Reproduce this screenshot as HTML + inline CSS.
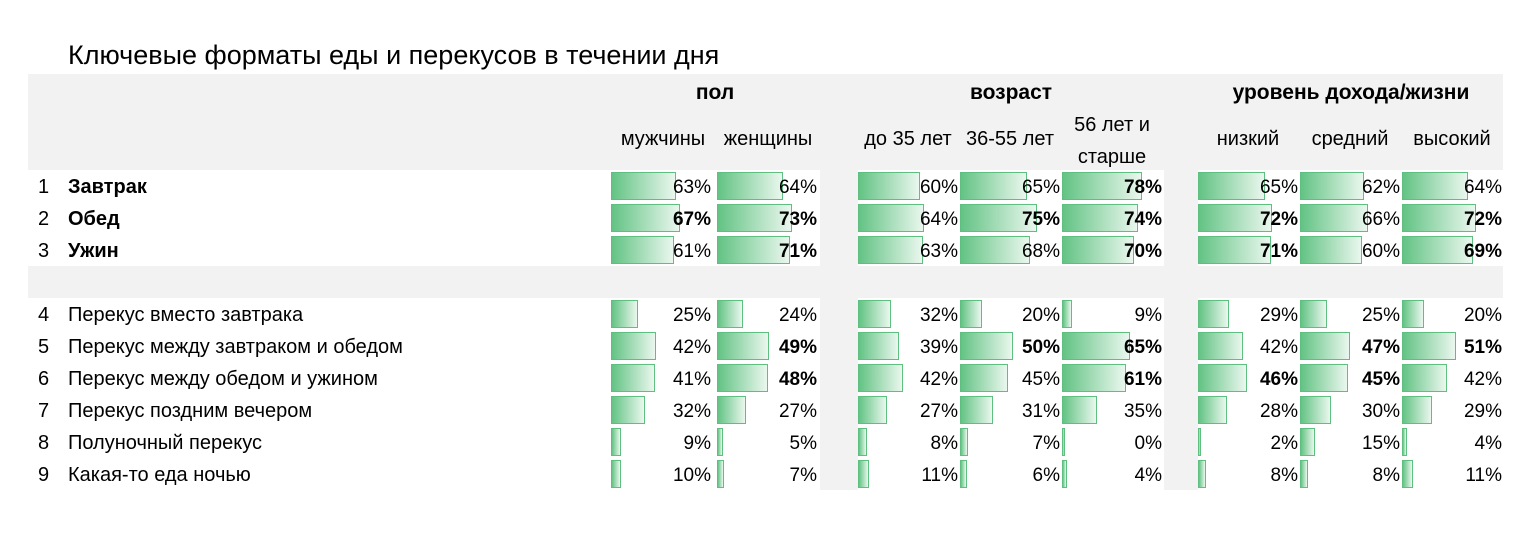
<!DOCTYPE html>
<html><head><meta charset="utf-8"><style>
body{margin:0;width:1536px;height:539px;background:#fff;position:relative;overflow:hidden;font-family:"Liberation Sans",sans-serif;color:#000}
div{position:absolute}
.g{background:#f2f2f2}
.b{height:26px;border:1px solid #5fbf80;background:linear-gradient(to right,#63c384,#eaf7ee);box-sizing:content-box}
.t{width:100px;text-align:right;font-size:19px;line-height:32px;margin-top:2px}
.k{font-weight:bold}
.l{font-size:20px;line-height:32px;white-space:nowrap;margin-top:1px}
.h{font-size:20px;text-align:center;white-space:nowrap}
</style></head><body>
<div style="left:68px;top:40px;font-size:27px;white-space:nowrap">Ключевые форматы еды и перекусов в течении дня</div>
<div class="g" style="left:28px;top:74px;width:1475px;height:96px"></div>
<div class="g" style="left:28px;top:266px;width:1475px;height:32px"></div>
<div class="g" style="left:820px;top:170px;width:38px;height:320px"></div>
<div class="g" style="left:1164px;top:170px;width:34px;height:320px"></div>
<div class="h k" style="left:611px;top:81px;width:208px;font-size:21px">пол</div>
<div class="h k" style="left:858px;top:81px;width:306px;font-size:21px">возраст</div>
<div class="h k" style="left:1198px;top:81px;width:306px;font-size:21px">уровень дохода/жизни</div>
<div class="h" style="left:608px;top:128px;width:110px">мужчины</div>
<div class="h" style="left:713px;top:128px;width:110px">женщины</div>
<div class="h" style="left:853px;top:128px;width:110px">до 35 лет</div>
<div class="h" style="left:955px;top:128px;width:110px">36-55 лет</div>
<div class="h" style="left:1057px;top:109px;width:110px;line-height:32px">56 лет и<br>старше</div>
<div class="h" style="left:1193px;top:128px;width:110px">низкий</div>
<div class="h" style="left:1295px;top:128px;width:110px">средний</div>
<div class="h" style="left:1397px;top:128px;width:110px">высокий</div>

<div class="l" style="left:38px;top:170px">1</div><div class="l k" style="left:68px;top:170px">Завтрак</div>
<div class="l" style="left:38px;top:202px">2</div><div class="l k" style="left:68px;top:202px">Обед</div>
<div class="l" style="left:38px;top:234px">3</div><div class="l k" style="left:68px;top:234px">Ужин</div>
<div class="l" style="left:38px;top:298px">4</div><div class="l" style="left:68px;top:298px">Перекус вместо завтрака</div>
<div class="l" style="left:38px;top:330px">5</div><div class="l" style="left:68px;top:330px">Перекус между завтраком и обедом</div>
<div class="l" style="left:38px;top:362px">6</div><div class="l" style="left:68px;top:362px">Перекус между обедом и ужином</div>
<div class="l" style="left:38px;top:394px">7</div><div class="l" style="left:68px;top:394px">Перекус поздним вечером</div>
<div class="l" style="left:38px;top:426px">8</div><div class="l" style="left:68px;top:426px">Полуночный перекус</div>
<div class="l" style="left:38px;top:458px">9</div><div class="l" style="left:68px;top:458px">Какая-то еда ночью</div>

<div class="b" style="left:611px;top:172px;width:63px"></div><div class="t" style="left:611px;top:170px">63%</div>
<div class="b" style="left:717px;top:172px;width:64px"></div><div class="t" style="left:717px;top:170px">64%</div>
<div class="b" style="left:858px;top:172px;width:60px"></div><div class="t" style="left:858px;top:170px">60%</div>
<div class="b" style="left:960px;top:172px;width:65px"></div><div class="t" style="left:960px;top:170px">65%</div>
<div class="b" style="left:1062px;top:172px;width:78px"></div><div class="t k" style="left:1062px;top:170px">78%</div>
<div class="b" style="left:1198px;top:172px;width:65px"></div><div class="t" style="left:1198px;top:170px">65%</div>
<div class="b" style="left:1300px;top:172px;width:62px"></div><div class="t" style="left:1300px;top:170px">62%</div>
<div class="b" style="left:1402px;top:172px;width:64px"></div><div class="t" style="left:1402px;top:170px">64%</div>
<div class="b" style="left:611px;top:204px;width:67px"></div><div class="t k" style="left:611px;top:202px">67%</div>
<div class="b" style="left:717px;top:204px;width:73px"></div><div class="t k" style="left:717px;top:202px">73%</div>
<div class="b" style="left:858px;top:204px;width:64px"></div><div class="t" style="left:858px;top:202px">64%</div>
<div class="b" style="left:960px;top:204px;width:75px"></div><div class="t k" style="left:960px;top:202px">75%</div>
<div class="b" style="left:1062px;top:204px;width:74px"></div><div class="t k" style="left:1062px;top:202px">74%</div>
<div class="b" style="left:1198px;top:204px;width:72px"></div><div class="t k" style="left:1198px;top:202px">72%</div>
<div class="b" style="left:1300px;top:204px;width:66px"></div><div class="t" style="left:1300px;top:202px">66%</div>
<div class="b" style="left:1402px;top:204px;width:72px"></div><div class="t k" style="left:1402px;top:202px">72%</div>
<div class="b" style="left:611px;top:236px;width:61px"></div><div class="t" style="left:611px;top:234px">61%</div>
<div class="b" style="left:717px;top:236px;width:71px"></div><div class="t k" style="left:717px;top:234px">71%</div>
<div class="b" style="left:858px;top:236px;width:63px"></div><div class="t" style="left:858px;top:234px">63%</div>
<div class="b" style="left:960px;top:236px;width:68px"></div><div class="t" style="left:960px;top:234px">68%</div>
<div class="b" style="left:1062px;top:236px;width:70px"></div><div class="t k" style="left:1062px;top:234px">70%</div>
<div class="b" style="left:1198px;top:236px;width:71px"></div><div class="t k" style="left:1198px;top:234px">71%</div>
<div class="b" style="left:1300px;top:236px;width:60px"></div><div class="t" style="left:1300px;top:234px">60%</div>
<div class="b" style="left:1402px;top:236px;width:69px"></div><div class="t k" style="left:1402px;top:234px">69%</div>
<div class="b" style="left:611px;top:300px;width:25px"></div><div class="t" style="left:611px;top:298px">25%</div>
<div class="b" style="left:717px;top:300px;width:24px"></div><div class="t" style="left:717px;top:298px">24%</div>
<div class="b" style="left:858px;top:300px;width:31px"></div><div class="t" style="left:858px;top:298px">32%</div>
<div class="b" style="left:960px;top:300px;width:20px"></div><div class="t" style="left:960px;top:298px">20%</div>
<div class="b" style="left:1062px;top:300px;width:8px"></div><div class="t" style="left:1062px;top:298px">9%</div>
<div class="b" style="left:1198px;top:300px;width:29px"></div><div class="t" style="left:1198px;top:298px">29%</div>
<div class="b" style="left:1300px;top:300px;width:25px"></div><div class="t" style="left:1300px;top:298px">25%</div>
<div class="b" style="left:1402px;top:300px;width:20px"></div><div class="t" style="left:1402px;top:298px">20%</div>
<div class="b" style="left:611px;top:332px;width:43px"></div><div class="t" style="left:611px;top:330px">42%</div>
<div class="b" style="left:717px;top:332px;width:50px"></div><div class="t k" style="left:717px;top:330px">49%</div>
<div class="b" style="left:858px;top:332px;width:39px"></div><div class="t" style="left:858px;top:330px">39%</div>
<div class="b" style="left:960px;top:332px;width:51px"></div><div class="t k" style="left:960px;top:330px">50%</div>
<div class="b" style="left:1062px;top:332px;width:66px"></div><div class="t k" style="left:1062px;top:330px">65%</div>
<div class="b" style="left:1198px;top:332px;width:43px"></div><div class="t" style="left:1198px;top:330px">42%</div>
<div class="b" style="left:1300px;top:332px;width:48px"></div><div class="t k" style="left:1300px;top:330px">47%</div>
<div class="b" style="left:1402px;top:332px;width:52px"></div><div class="t k" style="left:1402px;top:330px">51%</div>
<div class="b" style="left:611px;top:364px;width:42px"></div><div class="t" style="left:611px;top:362px">41%</div>
<div class="b" style="left:717px;top:364px;width:49px"></div><div class="t k" style="left:717px;top:362px">48%</div>
<div class="b" style="left:858px;top:364px;width:43px"></div><div class="t" style="left:858px;top:362px">42%</div>
<div class="b" style="left:960px;top:364px;width:46px"></div><div class="t" style="left:960px;top:362px">45%</div>
<div class="b" style="left:1062px;top:364px;width:62px"></div><div class="t k" style="left:1062px;top:362px">61%</div>
<div class="b" style="left:1198px;top:364px;width:47px"></div><div class="t k" style="left:1198px;top:362px">46%</div>
<div class="b" style="left:1300px;top:364px;width:46px"></div><div class="t k" style="left:1300px;top:362px">45%</div>
<div class="b" style="left:1402px;top:364px;width:43px"></div><div class="t" style="left:1402px;top:362px">42%</div>
<div class="b" style="left:611px;top:396px;width:32px"></div><div class="t" style="left:611px;top:394px">32%</div>
<div class="b" style="left:717px;top:396px;width:27px"></div><div class="t" style="left:717px;top:394px">27%</div>
<div class="b" style="left:858px;top:396px;width:27px"></div><div class="t" style="left:858px;top:394px">27%</div>
<div class="b" style="left:960px;top:396px;width:31px"></div><div class="t" style="left:960px;top:394px">31%</div>
<div class="b" style="left:1062px;top:396px;width:33px"></div><div class="t" style="left:1062px;top:394px">35%</div>
<div class="b" style="left:1198px;top:396px;width:27px"></div><div class="t" style="left:1198px;top:394px">28%</div>
<div class="b" style="left:1300px;top:396px;width:29px"></div><div class="t" style="left:1300px;top:394px">30%</div>
<div class="b" style="left:1402px;top:396px;width:28px"></div><div class="t" style="left:1402px;top:394px">29%</div>
<div class="b" style="left:611px;top:428px;width:8px"></div><div class="t" style="left:611px;top:426px">9%</div>
<div class="b" style="left:717px;top:428px;width:4px"></div><div class="t" style="left:717px;top:426px">5%</div>
<div class="b" style="left:858px;top:428px;width:7px"></div><div class="t" style="left:858px;top:426px">8%</div>
<div class="b" style="left:960px;top:428px;width:6px"></div><div class="t" style="left:960px;top:426px">7%</div>
<div class="b" style="left:1062px;top:428px;width:1px"></div><div class="t" style="left:1062px;top:426px">0%</div>
<div class="b" style="left:1198px;top:428px;width:1px"></div><div class="t" style="left:1198px;top:426px">2%</div>
<div class="b" style="left:1300px;top:428px;width:13px"></div><div class="t" style="left:1300px;top:426px">15%</div>
<div class="b" style="left:1402px;top:428px;width:3px"></div><div class="t" style="left:1402px;top:426px">4%</div>
<div class="b" style="left:611px;top:460px;width:8px"></div><div class="t" style="left:611px;top:458px">10%</div>
<div class="b" style="left:717px;top:460px;width:5px"></div><div class="t" style="left:717px;top:458px">7%</div>
<div class="b" style="left:858px;top:460px;width:9px"></div><div class="t" style="left:858px;top:458px">11%</div>
<div class="b" style="left:960px;top:460px;width:5px"></div><div class="t" style="left:960px;top:458px">6%</div>
<div class="b" style="left:1062px;top:460px;width:3px"></div><div class="t" style="left:1062px;top:458px">4%</div>
<div class="b" style="left:1198px;top:460px;width:6px"></div><div class="t" style="left:1198px;top:458px">8%</div>
<div class="b" style="left:1300px;top:460px;width:6px"></div><div class="t" style="left:1300px;top:458px">8%</div>
<div class="b" style="left:1402px;top:460px;width:9px"></div><div class="t" style="left:1402px;top:458px">11%</div>
</body></html>
